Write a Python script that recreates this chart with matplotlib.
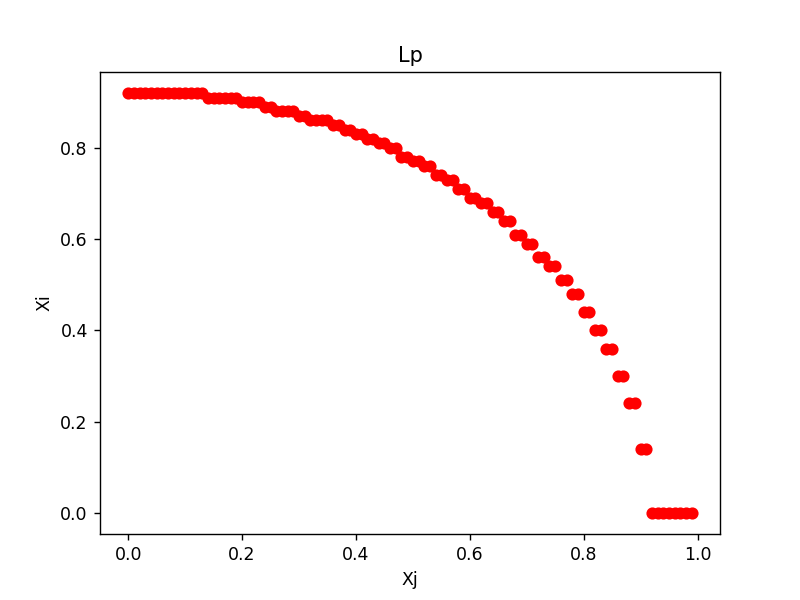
import numpy as np
import matplotlib
matplotlib.use('Agg')
import matplotlib.pyplot as plt

# y, one value per pair of x points
y_pairs = [0.92, 0.92, 0.92, 0.92, 0.92, 0.92, 0.92,
           0.91, 0.91, 0.91,
           0.90, 0.90,
           0.89,
           0.88, 0.88,
           0.87,
           0.86, 0.86,
           0.85, 0.84, 0.83, 0.82, 0.81, 0.80, 0.78, 0.77, 0.76, 0.74, 0.73, 0.71, 0.69, 0.68,
           0.66, 0.64, 0.61, 0.59, 0.56, 0.54, 0.51, 0.48, 0.44, 0.40, 0.36, 0.30, 0.24, 0.14,
           0.0, 0.0, 0.0, 0.0]

xj = np.arange(100) / 100
xi = np.repeat(y_pairs, 2)

plt.figure(figsize=(6.4, 4.8), dpi=125)
plt.scatter(xj, xi, c='r')
plt.title('Lp')
plt.xlabel('Xj')
plt.ylabel('Xi')
plt.savefig('out.png', dpi=125)
